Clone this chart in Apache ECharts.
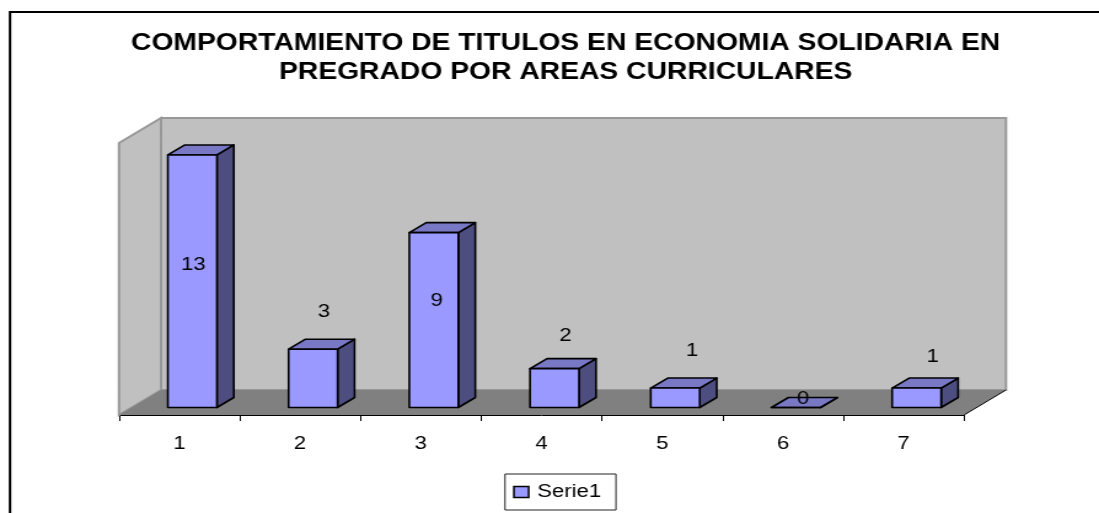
<!DOCTYPE html>
<html>
<head>
<meta charset="utf-8">
<style>
html,body{margin:0;padding:0;background:#fff;overflow:hidden}
/* the reference is a horizontally stretched picture: the chart is drawn narrower and stretched the same way */
#c{width:894px;height:513px;transform-origin:0 0;transform:scaleX(1.2293)}
</style>
<script src="https://cdn.jsdelivr.net/npm/echarts@6/dist/echarts.min.js"></script>
</head>
<body>
<div id="c"></div>
<script>
const titleText = "COMPORTAMIENTO DE TITULOS EN ECONOMIA SOLIDARIA EN\nPREGRADO POR AREAS CURRICULARES";
const categories = ["1", "2", "3", "4", "5", "6", "7"];
const seriesName = "Serie1";
const values = [13, 3, 9, 2, 1, 0, 1];
// label placement relative to the top-centre of each bar's front face
const labelShiftX = [1, 11, 3, 11, 17, 7, 16];
const labelShiftY = [110.5, -37.5, 68.5, -32.5, -37.5, -8.5, -31.5];

const SX = 1.2293;
const px = x => x / SX;   // horizontal picture pixels to chart units
const DEPTH = [px(42), -25], BAR_SHIFT = [px(13), -7.5], BAR_DEPTH = [px(17), -10];
const FONT = '"Liberation Sans", Arial, sans-serif';

const chart = echarts.init(document.getElementById('c'), null, {renderer: 'canvas'});

function renderWalls(params, api) {
  const r = params.coordSys;
  const x0 = r.x, x1 = r.x + r.width, y0 = r.y, y1 = r.y + r.height;
  const dx = DEPTH[0], dy = DEPTH[1];
  const wall = {fill: '#C0C0C0', stroke: '#989898', lineWidth: 2};
  return {type: 'group', children: [
    {type: 'polygon', shape: {points: [[x0 + dx, y0 + dy], [x1 + dx, y0 + dy], [x1 + dx, y1 + dy], [x0 + dx, y1 + dy]]}, style: wall},
    {type: 'polygon', shape: {points: [[x0, y0], [x0 + dx, y0 + dy], [x0 + dx, y1 + dy], [x0, y1]]}, style: wall},
    {type: 'polygon', shape: {points: [[x0, y1], [x0 + dx, y1 + dy], [x1 + dx, y1 + dy], [x1, y1]]}, style: {fill: '#808080'}},
    {type: 'line', shape: {x1: x1, y1: y1, x2: x1 + dx, y2: y1 + dy}, style: {stroke: '#000', lineWidth: 1}}
  ]};
}

function renderBar(params, api) {
  const i = api.value(0), v = api.value(1);
  const top = api.coord([i, v]), base = api.coord([i, 0]);
  const w = api.size([1, 0])[0] * 0.406;
  const l = top[0] + BAR_SHIFT[0] - w / 2, r = l + w;
  const t = top[1] + BAR_SHIFT[1], b = base[1] + BAR_SHIFT[1];
  const dx = BAR_DEPTH[0], dy = BAR_DEPTH[1];
  const edge = {stroke: '#000', lineWidth: 1.6, lineJoin: 'round'};
  return {type: 'group', children: [
    {type: 'polygon', shape: {points: [[r, t], [r + dx, t + dy], [r + dx, b + dy], [r, b]]},
      style: Object.assign({fill: '#4D4D80'}, edge)},
    {type: 'polygon', shape: {points: [[l, t], [l + dx, t + dy], [r + dx, t + dy], [r, t]]},
      style: Object.assign({fill: '#7878C4'}, edge)},
    {type: 'polygon', shape: {points: [[l, t], [r, t], [r, b], [l, b]]},
      style: Object.assign({fill: '#9999FF'}, edge)},
    {type: 'text', z2: 10, style: {
      x: (l + r) / 2 + px(labelShiftX[i]), y: t + labelShiftY[i],
      text: String(v), fill: '#000', font: '18px ' + FONT, align: 'center', verticalAlign: 'middle'
    }}
  ]};
}

chart.setOption({
  animation: false,
  backgroundColor: '#fff',
  title: {
    text: titleText, left: px(559.5), top: 24, textAlign: 'center',
    textStyle: {fontFamily: FONT, fontSize: 23, fontWeight: 'bold', color: '#000', lineHeight: 29}
  },
  legend: {
    left: px(505), top: 474, padding: [9, 12, 9, 6.5],
    data: [{name: seriesName, icon: 'rect', itemStyle: {color: '#9999FF', borderColor: '#000', borderWidth: 1.5}}],
    itemWidth: 12, itemHeight: 11, itemGap: 8,
    borderColor: '#222', borderWidth: 1, backgroundColor: '#fff',
    textStyle: {fontFamily: FONT, fontSize: 18, color: '#000', padding: [0, 0, 0, 2]}
  },
  grid: {left: px(119), top: 143, width: px(845), height: 272, containLabel: false},
  xAxis: {
    type: 'category', data: categories, boundaryGap: true,
    axisLine: {show: true, onZero: false, lineStyle: {color: '#000', width: 1}},
    axisTick: {show: true, alignWithLabel: false, length: 6, lineStyle: {color: '#000', width: 1}},
    axisLabel: {margin: 20, fontFamily: FONT, fontSize: 18, color: '#000'},
    splitLine: {show: false}
  },
  yAxis: {type: 'value', min: 0, max: 14, show: false, splitLine: {show: false}},
  series: [
    {type: 'custom', name: 'walls', silent: true, z: 1, clip: false, renderItem: renderWalls, data: [[0, 0]], encode: {x: 0, y: 1}},
    {type: 'custom', name: seriesName, z: 3, clip: false, renderItem: renderBar, itemStyle: {color: '#9999FF'},
      data: values.map((v, i) => [i, v]), encode: {x: 0, y: 1}}
  ],
  graphic: [
    {type: 'polyline', z: 100, silent: true, shape: {points: [[px(10), 513], [px(10), 12], [894, 12]]},
      style: {stroke: '#000', lineWidth: 2, fill: null}}
  ]
});
</script>
</body>
</html>
